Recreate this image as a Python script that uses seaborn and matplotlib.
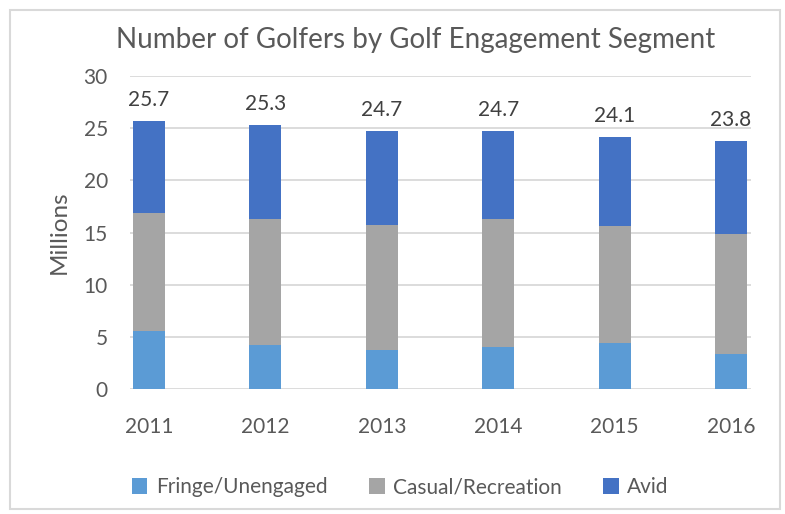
import matplotlib.pyplot as plt
import numpy as np
import pandas as pd
import seaborn as sns
from matplotlib.patches import Patch, Rectangle

years = ["2011", "2012", "2013", "2014", "2015", "2016"]
fringe = [5.6, 4.2, 3.8, 4.0, 4.4, 3.4]
casual = [11.3, 12.1, 11.9, 12.3, 11.2, 11.5]
avid = [8.8, 9.0, 9.0, 8.4, 8.5, 8.9]
totals = [25.7, 25.3, 24.7, 24.7, 24.1, 23.8]

series = ["Fringe/Unengaged", "Casual/Recreation", "Avid"]
colors = ["#5B9BD5", "#A5A5A5", "#4472C4"]
text_col = "#595959"
grid_col = "#D9D9D9"

df = pd.DataFrame({"year": years, "fringe": fringe, "casual": casual, "avid": avid})
df["lvl1"] = df["fringe"]
df["lvl2"] = df["fringe"] + df["casual"]
df["lvl3"] = df["lvl2"] + df["avid"]

sns.set_theme(style="white")
plt.rcParams["font.family"] = ["Lato", "DejaVu Sans"]

fig = plt.figure(figsize=(7.85, 5.14), dpi=100)
ax = fig.add_axes([0.1656, 0.2426, 0.7911, 0.6101])

# stacked bars: draw cumulative heights back to front
bw = 0.275
for col, c in zip(["lvl3", "lvl2", "lvl1"], colors[::-1]):
    sns.barplot(data=df, x="year", y=col, color=c, width=bw, ax=ax,
                saturation=1, edgecolor="none", linewidth=0, zorder=3)

for i, t in enumerate(totals):
    ax.text(i, t + 2.0, f"{t}", ha="center", va="center", fontsize=15, color="#404040")

ax.set_xlim(-0.163, 5.172)
ax.set_ylim(0, 30)
ax.set_yticks(np.arange(0, 31, 5))
ax.yaxis.grid(True, color=grid_col, linewidth=1.3, zorder=0)
ax.set_axisbelow(True)
for s in ax.spines.values():
    s.set_visible(False)
ax.tick_params(axis="both", length=0, labelsize=15, labelcolor=text_col)
ax.tick_params(axis="y", pad=16)
ax.tick_params(axis="x", pad=20)
ax.set_xlabel("")
ax.set_ylabel("Millions", fontsize=17.5, color=text_col, labelpad=10)

fig.suptitle("Number of Golfers by Golf Engagement Segment", x=0.53, y=0.948,
             fontsize=20, color=text_col)

handles = [Patch(facecolor=c, edgecolor="none") for c in colors]
fig.legend(handles, series, loc="center", bbox_to_anchor=(0.51, 0.052), ncol=3,
           frameon=False, fontsize=15, labelcolor=text_col, handlelength=0.75,
           handleheight=0.75, handletextpad=0.4, columnspacing=2.0)

fig.patches.append(Rectangle((10 / 785, 5 / 514), 770 / 785, 499 / 514,
                             transform=fig.transFigure, fill=False,
                             edgecolor=grid_col, linewidth=1.5))

fig.savefig("out.png", dpi=100)
